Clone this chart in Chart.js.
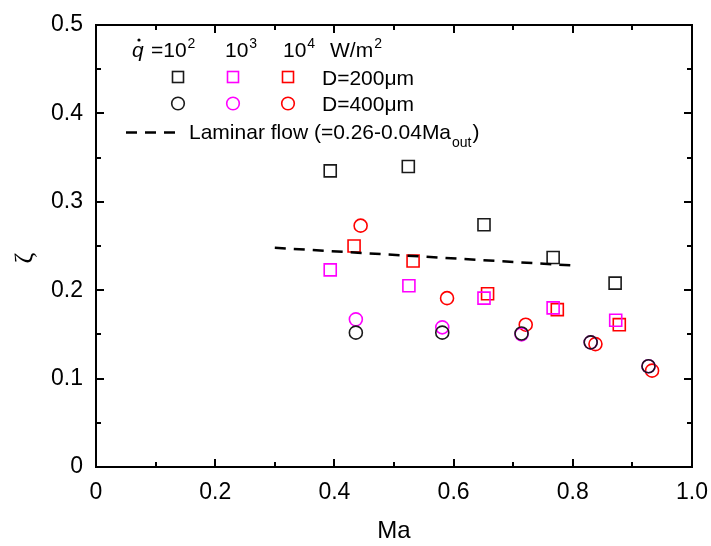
<!DOCTYPE html>
<html>
<head>
<meta charset="utf-8">
<script src="https://cdn.jsdelivr.net/npm/chart.js@4"></script>
<style>
  html, body { margin: 0; padding: 0; background: #fff; }
</style>
</head>
<body>
<canvas id="myChart" width="711" height="546"></canvas>
<script>
const xTickLabels = ["0", "0.2", "0.4", "0.6", "0.8", "1.0"];
const yTickLabels = ["0", "0.1", "0.2", "0.3", "0.4", "0.5"];

// D = 200 um (squares), q = 10^2, 10^3, 10^4 W/m2
const maSq2 = [0.393, 0.524, 0.651, 0.767, 0.871];
const zetaSq2 = [0.335, 0.340, 0.274, 0.237, 0.208];
const maSq3 = [0.393, 0.525, 0.651, 0.767, 0.872];
const zetaSq3 = [0.223, 0.205, 0.191, 0.180, 0.166];
const maSq4 = [0.433, 0.532, 0.657, 0.774, 0.878];
const zetaSq4 = [0.250, 0.233, 0.196, 0.178, 0.161];

// D = 400 um (circles)
const maCi2 = [0.436, 0.581, 0.714, 0.830, 0.927];
const zetaCi2 = [0.152, 0.152, 0.151, 0.141, 0.114];
const maCi3 = [0.436, 0.581, 0.714, 0.830, 0.927];
const zetaCi3 = [0.167, 0.158, 0.150, 0.141, 0.114];
const maCi4 = [0.444, 0.589, 0.721, 0.838, 0.933];
const zetaCi4 = [0.273, 0.191, 0.161, 0.139, 0.109];

// laminar flow line end points
const maLam = [0.30, 0.80];
const zetaLam = [0.248, 0.228];

const BLACK = "#1a1a1a";
const MAGENTA = "#ff00ff";
const RED = "#ff0000";

function pts(xs, ys) {
  return xs.map((v, i) => ({ x: v, y: ys[i] }));
}

function markerSet(label, xs, ys, color, style) {
  return {
    label: label,
    data: pts(xs, ys),
    showLine: false,
    pointStyle: style,
    pointRadius: style === "rect" ? 8.5 : 6.5,
    pointBorderColor: color,
    pointBackgroundColor: "rgba(0,0,0,0)",
    pointBorderWidth: 1.6,
    borderColor: color,
  };
}

const frame = {
  id: "frame",
  afterDraw(chart) {
    const { ctx, chartArea: a, scales } = chart;
    const x = scales.x, y = scales.y;
    ctx.save();
    ctx.strokeStyle = "#000";
    ctx.lineWidth = 2;
    ctx.strokeRect(a.left, a.top, a.right - a.left, a.bottom - a.top);
    for (let i = 0; i <= 10; i++) {
      const px = Math.round(x.getPixelForValue(i / 10));
      const len = i % 2 ? 5 : 8;
      ctx.beginPath();
      ctx.moveTo(px, a.bottom); ctx.lineTo(px, a.bottom - len);
      ctx.moveTo(px, a.top); ctx.lineTo(px, a.top + len);
      ctx.stroke();
    }
    for (let i = 0; i <= 10; i++) {
      const py = Math.round(y.getPixelForValue(i / 20));
      const len = i % 2 ? 5 : 8;
      ctx.beginPath();
      ctx.moveTo(a.left, py); ctx.lineTo(a.left + len, py);
      ctx.moveTo(a.right, py); ctx.lineTo(a.right - len, py);
      ctx.stroke();
    }

    // axis titles
    ctx.fillStyle = "#000";
    ctx.font = "24px 'Liberation Sans', Arial, sans-serif";
    ctx.textAlign = "center";
    ctx.textBaseline = "middle";
    ctx.fillText("Ma", (a.left + a.right) / 2, 531);
    ctx.save();
    ctx.translate(25, 258);
    ctx.rotate(-Math.PI / 2);
    ctx.font = "26px 'Liberation Serif', serif";
    ctx.fillText("ζ", 0, 0);
    ctx.restore();

    // legend
    const f = "21px 'Liberation Sans', Arial, sans-serif";
    const fs = "14px 'Liberation Sans', Arial, sans-serif";
    ctx.textAlign = "left";
    ctx.textBaseline = "alphabetic";
    ctx.font = "italic " + f;
    ctx.fillText("q", 132, 57);
    ctx.beginPath();
    ctx.arc(139, 40, 1.6, 0, Math.PI * 2);
    ctx.fill();
    const sup = (txt, px, s) => {
      ctx.font = f;
      ctx.fillText(txt, px, 57);
      const w = ctx.measureText(txt).width;
      ctx.font = fs;
      ctx.fillText(s, px + w + 1, 48);
    };
    sup("=10", 151, "2");
    sup("10", 225, "3");
    sup("10", 283, "4");
    sup("W/m", 330, "2");

    const cols = [BLACK, MAGENTA, RED];
    const cx = [178, 233, 288];
    ctx.lineWidth = 1.6;
    cols.forEach((c, i) => {
      ctx.strokeStyle = c;
      ctx.strokeRect(cx[i] - 5.5, 77 - 5.5, 11, 11);
      ctx.beginPath();
      ctx.arc(cx[i], 103.5, 6.3, 0, Math.PI * 2);
      ctx.stroke();
    });
    ctx.font = f;
    ctx.fillText("D=200μm", 322, 85);
    ctx.fillText("D=400μm", 322, 111);

    ctx.strokeStyle = "#000";
    ctx.lineWidth = 2.5;
    ctx.setLineDash([11, 8]);
    ctx.beginPath();
    ctx.moveTo(126, 132.5);
    ctx.lineTo(181, 132.5);
    ctx.stroke();
    ctx.setLineDash([]);
    const main = "Laminar flow (=0.26-0.04Ma";
    ctx.fillText(main, 189, 139);
    const w = ctx.measureText(main).width;
    ctx.font = fs;
    ctx.fillText("out", 189 + w + 1, 147);
    const w2 = ctx.measureText("out").width;
    ctx.font = f;
    ctx.fillText(")", 189 + w + 2 + w2, 139);
    ctx.restore();
  },
};

const tickFont = { family: "'Liberation Sans', Arial, sans-serif", size: 23 };

const config = {
  type: "scatter",
  data: {
    datasets: [
      {
        label: "Laminar flow",
        data: pts(maLam, zetaLam),
        showLine: true,
        borderColor: "#000",
        borderWidth: 2.5,
        borderDash: [11, 8],
        pointRadius: 0,
      },
      markerSet("200 q2", maSq2, zetaSq2, BLACK, "rect"),
      markerSet("200 q3", maSq3, zetaSq3, MAGENTA, "rect"),
      markerSet("200 q4", maSq4, zetaSq4, RED, "rect"),
      markerSet("400 q2", maCi2, zetaCi2, BLACK, "circle"),
      markerSet("400 q3", maCi3, zetaCi3, MAGENTA, "circle"),
      markerSet("400 q4", maCi4, zetaCi4, RED, "circle"),
    ],
  },
  options: {
    responsive: false,
    animation: false,
    devicePixelRatio: 1,
    layout: { padding: { left: 0, top: 25, right: 19, bottom: 0 } },
    plugins: { legend: { display: false }, tooltip: { enabled: false } },
    scales: {
      x: {
        type: "linear",
        min: 0,
        max: 1,
        grid: { display: false, drawTicks: false },
        border: { display: false },
        ticks: {
          stepSize: 0.2,
          padding: 12,
          color: "#000",
          font: tickFont,
          maxRotation: 0,
          callback: (v, i) => xTickLabels[i],
        },
        afterFit(scale) {
          scale.height = 79;
          scale.paddingLeft = 0;
          scale.paddingRight = 0;
        },
      },
      y: {
        type: "linear",
        min: 0,
        max: 0.5,
        grid: { display: false, drawTicks: false },
        border: { display: false },
        ticks: {
          stepSize: 0.1,
          padding: 13,
          color: "#000",
          font: tickFont,
          callback: (v, i) => yTickLabels[i],
        },
        afterFit(scale) {
          scale.width = 96;
          scale.paddingTop = 0;
          scale.paddingBottom = 0;
        },
      },
    },
  },
  plugins: [frame],
};

const myChart = new Chart(document.getElementById("myChart"), config);
</script>
</body>
</html>
